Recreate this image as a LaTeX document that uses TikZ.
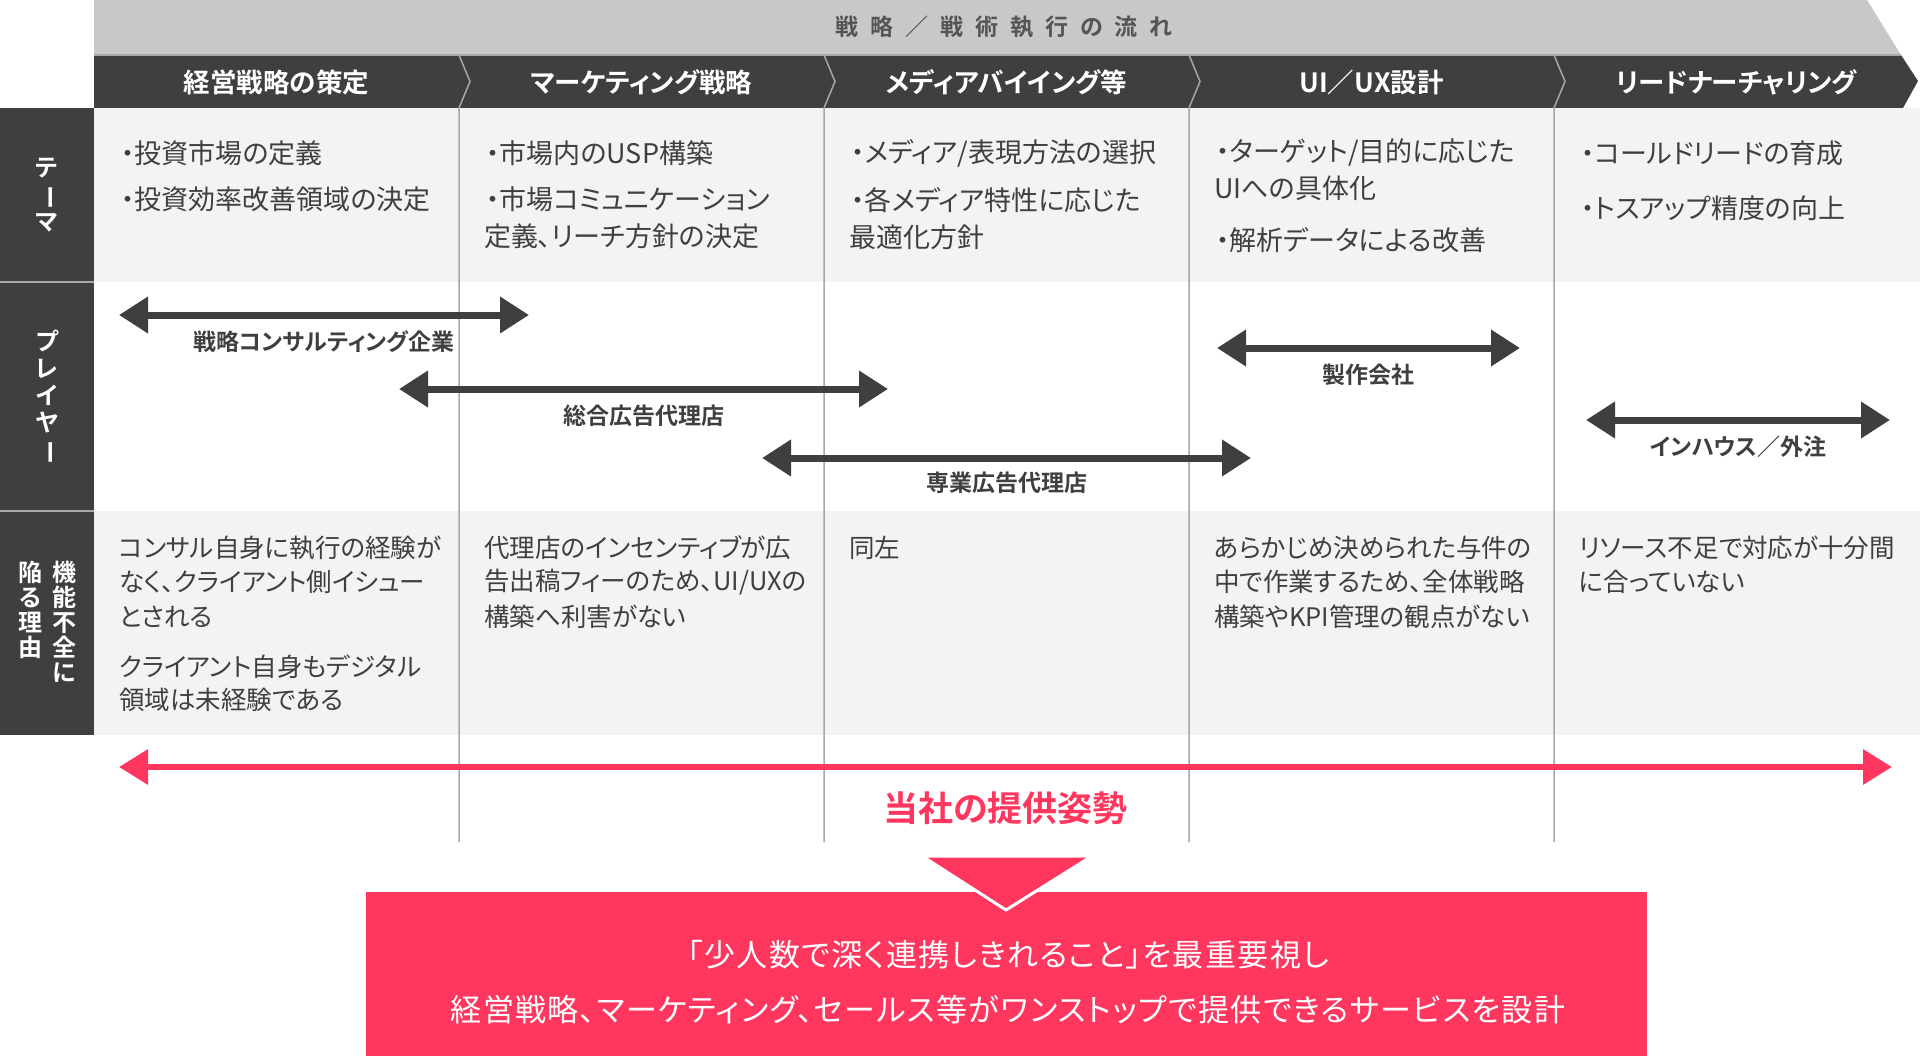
\documentclass[tikz,border=0pt]{standalone}
\usepackage{fontspec}
\setmainfont{Noto Sans CJK JP}[BoldFont={Noto Sans CJK JP Bold},RawFeature=+palt]
\usetikzlibrary{arrows.meta,positioning}
\definecolor{ink}{HTML}{3F3F3F}
\definecolor{band}{HTML}{C8C8C8}
\definecolor{pale}{HTML}{F3F3F3}
\definecolor{rule}{HTML}{A8A8A8}
\definecolor{rose}{HTML}{FF375F}
\definecolor{flowgray}{HTML}{555555}

\tikzset{
  hdr/.style={text=white,font=\fontsize{26.5}{30}\selectfont\bfseries,inner sep=0pt},
  theme/.style={anchor=west,text=ink,font=\fontsize{27}{30}\selectfont,inner sep=0pt},
  reason/.style={anchor=west,text=ink,font=\fontsize{25.5}{30}\selectfont,inner sep=0pt},
  plab/.style={text=ink,font=\fontsize{23}{27}\selectfont\bfseries,inner sep=0pt},
  player/.style={{Triangle[length=29pt,width=35pt]}-{Triangle[length=29pt,width=35pt]},line width=7pt,ink},
  sidelab/.style={text=white,font=\fontsize{24}{27}\selectfont\bfseries,align=center,inner sep=0pt},
}

\begin{document}
\begin{tikzpicture}[x=1pt,y=-1pt]
\useasboundingbox (0,0) rectangle (1920,1058);
% flow banner and phase band
\fill[band] (94,0) -- (1867,0) -- (1901,55) -- (94,55) -- cycle;
\fill[ink] (94,55) -- (1901,55) -- (1918,81) -- (1903,108) -- (94,108) -- cycle;
\draw[rule,line width=1.5pt] (94,55) -- (1901,55);
\node[text=flowgray,font=\fontsize{23}{27}\selectfont\bfseries\addfontfeatures{LetterSpace=52},inner sep=0pt] (flow) at (1004,27) {戦略／戦術執行の流れ};
% row backgrounds
\fill[pale] (94,108) rectangle (1920,282);
\fill[pale] (94,511) rectangle (1920,735);
\fill[ink] (0,108) rectangle (94,281);
\fill[ink] (0,283) rectangle (94,510);
\fill[ink] (0,512) rectangle (94,735);
\draw[rule,line width=2pt] (0,282) -- (94,282) (0,511) -- (94,511);
% column dividers with chevrons
\foreach \x in {459,824,1189,1554}{\draw[rule,line width=1.5pt] (\x,55) -- (\x+11,81.5) -- (\x,108) -- (\x,842);}
\foreach \i/\lab in {1/経営戦略の策定,2/マーケティング戦略,3/メディアバイイング等,4/UI／UX設計,5/リードナーチャリング}{\node[hdr] (h\i) at ({94+365*(\i-0.5)},82) {\lab};}
% side labels
\node[sidelab] (side1) at (47,195) {テ\\\rotatebox[origin=c]{-90}{ー}\\マ};
\node[sidelab] (side2) at (47,397) {プ\\レ\\イ\\ヤ\\\rotatebox[origin=c]{-90}{ー}};
\node[sidelab,font=\fontsize{24}{25}\selectfont\bfseries] (side3) at (64,622) {機\\能\\不\\全\\に};
\node[sidelab,font=\fontsize{24}{25}\selectfont\bfseries,anchor=north east] (side4) at ([xshift=-9pt]side3.north west) {陥\\る\\理\\由};
% theme row
\foreach \n/\x/\y/\t in {t1/121/153/{・投資市場の定義},t2/121/199/{・投資効率改善領域の決定},
  t3/486/153/{・市場内のUSP構築},t4/486/199/{・市場コミュニケーション},t5/484/236/{定義、リーチ方針の決定},
  t6/851/153/{・メディア/表現方法の選択},t7/851/200/{・各メディア特性に応じた},t8/849/237/{最適化方針},
  t9/1216/153/{・ターゲット/目的に応じた},t10/1214/188/{UIへの具体化},t11/1216/240/{・解析データによる改善},
  t12/1581/153/{・コールドリードの育成},t13/1581/208/{・トスアップ精度の向上}}{\node[theme] (\n) at (\x,\y) {\t};}
% players
\coordinate (p1a) at (119,315); \coordinate (p1b) at (529,315);
\coordinate (p2a) at (399,389); \coordinate (p2b) at (888,389);
\coordinate (p3a) at (762,458); \coordinate (p3b) at (1251,458);
\coordinate (p4a) at (1217,348); \coordinate (p4b) at (1520,348);
\coordinate (p5a) at (1586,420); \coordinate (p5b) at (1890,420);
\draw[player] (p1a) -- node[plab,below=12.5pt] (p1) {戦略コンサルティング企業} (p1b);
\draw[player] (p2a) -- node[plab,below=12.5pt] (p2) {総合広告代理店} (p2b);
\draw[player] (p3a) -- node[plab,below=10.5pt] (p3) {専業広告代理店} (p3b);
\draw[player] (p4a) -- node[plab,below=12.5pt] (p4) {製作会社} (p4b);
\draw[player] (p5a) -- node[plab,below=12.5pt] (p5) {インハウス／外注} (p5b);
% reasons row
\foreach \n/\x/\y/\t in {r1/119/548/{コンサル自身に執行の経験が},r2/119/582/{なく、クライアント側イシュー},r3/119/617/{とされる},
  r4/119/667/{クライアント自身もデジタル},r5/119/700/{領域は未経験である},
  r6/484/548/{代理店のインセンティブが広},r7/484/582/{告出稿フィーのため、UI/UXの},r8/484/617/{構築へ利害がない},
  r9/849/548/{同左},
  r10/1214/548/{あらかじめ決められた与件の},r11/1214/582/{中で作業するため、全体戦略},r12/1214/617/{構築やKPI管理の観点がない},
  r13/1579/548/{リソース不足で対応が十分間},r14/1579/582/{に合っていない}}{\node[reason] (\n) at (\x,\y) {\t};}
% our stance
\coordinate (sa) at (119,767); \coordinate (sb) at (1892,767);
\draw[{Triangle[length=29pt,width=34pt]}-{Triangle[length=29pt,width=34pt]},line width=6.5pt,rose] (sa) -- node[below=21pt,inner sep=0pt,text=rose,font=\fontsize{35}{38}\selectfont\bfseries] (stance) {当社の提供姿勢} (sb);
\node[fill=rose,minimum width=1281pt,minimum height=164pt,inner sep=0pt] (box) at (1006.5,974) {};
\fill[rose,draw=white,line width=3pt,line join=round] (922,856) -- (1092,856) -- (1006,910) -- cycle;
\node[text=white,align=center,font=\fontsize{31}{55}\selectfont\addfontfeatures{LetterSpace=4.5},inner sep=0pt] (boxtxt) at (1008,982) {「少人数で深く連携しきれること」を最重要視し\\経営戦略、マーケティング、セールス等がワンストップで提供できるサービスを設計};
\end{tikzpicture}
\end{document}
